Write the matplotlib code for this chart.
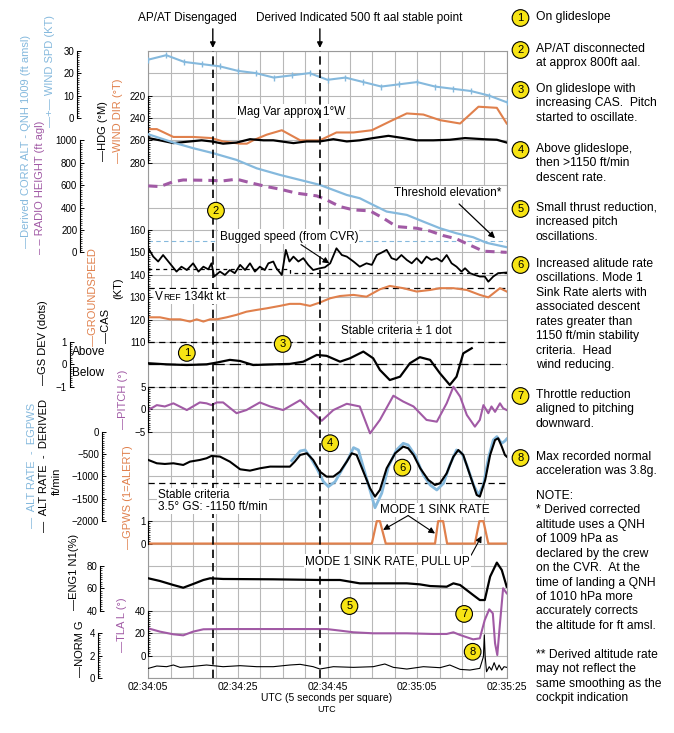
import numpy as np
import matplotlib
matplotlib.use('Agg')
import matplotlib.pyplot as plt
from matplotlib.ticker import FixedLocator
from matplotlib.offsetbox import TextArea, HPacker, AnnotationBbox

plt.rcParams['font.family'] = ['Liberation Sans', 'DejaVu Sans']

LBLUE = '#85b9dd'
ORANGE = '#e0804c'
PURPLE = '#a15aa5'
YELLOW = '#f7e414'
GRID = '#b8b8b8'

# ---- data, time = seconds after 02:34:05 UTC ----
time_labels = ['02:34:05', '02:34:25', '02:34:45', '02:35:05', '02:35:25']
ap_off_t = 14.4          # AP/AT disengaged
stable_t = 38.3          # derived 500 ft aal point

wind_t = [0, 4, 8, 12, 16, 20, 24, 28, 32, 36, 40, 44, 48, 52, 56, 60, 64, 68, 72, 76, 80]
wind_spd = [26, 28, 25, 24, 23, 21, 20, 18, 19, 20, 17, 18, 16, 14, 15, 16, 14, 13, 12, 10, 7]

wdir_t = [0, 1.9, 5.6, 10, 14.1, 16.7, 20.5, 22, 23.4, 26.4, 29.8, 33.9, 38.3, 42.0, 45.8,
          49.9, 54, 57.7, 61.4, 65.1, 69.6, 73.7, 77.8, 80]
wind_dir = [250, 250, 257, 257, 258, 261, 263, 263, 260, 255, 251, 260, 260, 253, 253,
            251, 243, 236, 237, 242, 245, 230, 231, 245]

hdg_t = [0, 2.6, 5.6, 9.3, 11.9, 14.1, 16.7, 19.7, 22.7, 25.7, 27.9, 32.4, 35.3, 38.3, 41.3,
         44.3, 47.2, 50.2, 53.6, 56.9, 59.9, 63.6, 67.3, 70.7, 74.8, 77.8, 80]
hdg = [258, 260, 262.5, 261, 260, 261, 263, 262, 259, 260, 260, 262.5, 261, 261, 259,
       261, 260, 258, 256, 258, 260, 260, 259.5, 258, 259, 259.5, 262]

alt_t = [0, 5.6, 10, 14.5, 19.7, 24.2, 29.4, 33.9, 38.3, 41.3, 44.3, 47.2, 50.2, 53.2, 57.7,
         61.4, 65.1, 68.8, 72.5, 75.5, 80]
corr_alt = [1054, 980, 930, 885, 825, 750, 691, 646, 602, 557, 512, 483, 423, 364, 334,
            274, 215, 170, 135, 85, 46]
threshold_elev = 102

rad_t = [0, 2.6, 5.6, 7.8, 13, 16.7, 19.7, 22.7, 26.4, 29.4, 33.1, 37.6, 39.8, 42.8, 45.8,
         49.5, 52.5, 55.4, 59.9, 62.9, 65.8, 68.8, 71.5, 74.8, 80]
radio_ht = [593, 587, 631, 646, 643, 638, 653, 622, 587, 564, 528, 504, 468, 408, 379,
            370, 304, 230, 215, 190, 150, 120, 70, 10, 0]

cas_t = [0, 1.1, 2.2, 3.3, 4.8, 6.3, 7.4, 8.6, 10.0, 11.2, 12.3, 13.4, 14.1, 14.7, 16.0, 17.1,
         18.2, 19.3, 20.5, 21.6, 22.7, 23.8, 24.9, 26.0, 26.8, 27.9, 28.6, 29.8, 30.7, 31.5,
         32.4, 33.5, 34.6, 35.7, 36.8, 38.3, 39.4, 40.6, 42.0, 43.2, 44.3, 45.8, 47.2, 48.7,
         49.9, 51.0, 52.1, 53.2, 54.3, 55.4, 56.5, 57.7, 58.8, 59.9, 61.0, 62.1, 63.2, 64.4,
         65.5, 66.6, 67.7, 68.8, 69.9, 70.7, 71.8, 72.9, 74.0, 75.1, 75.9, 77.0, 78.1, 80.0]
cas = [151.8, 148.1, 145.9, 148.8, 145.1, 141.4, 143.6, 142.1, 145.1, 141.4, 143.6, 142.4,
       145.1, 139.2, 141.4, 139.9, 142.1, 140.7, 144.4, 142.1, 145.1, 141.4, 143.6, 142.1,
       145.1, 145.9, 142.9, 139.9, 151.1, 145.9, 148.1, 145.9, 147.4, 144.4, 142.1, 142.9,
       143.3, 145.1, 151.8, 148.8, 148.1, 145.9, 143.6, 145.1, 144.4, 148.8, 149.9, 151.1,
       147.4, 146.6, 148.8, 146.6, 145.1, 147.4, 145.1, 148.1, 146.6, 147.4, 145.9, 148.8,
       145.1, 143.6, 141.4, 142.9, 140.7, 139.9, 139.2, 139.2, 136.9, 139.2, 140.7, 141.0]

bug_t = [0, 31.6, 31.6, 80]
bug_spd = [142.6, 142.6, 140.7, 140.7]
vref = 134

gspd_t = [0, 2.6, 4.8, 7.1, 9.3, 10.8, 12.3, 13.8, 15.3, 17.5, 19.7, 21.9, 24.2, 26.4, 29.4,
          31.6, 33.9, 36.1, 38.3, 40.6, 42.8, 45.8, 48.7, 51.7, 53.9, 56.9, 59.9, 62.9, 65.1,
          68.1, 71.1, 74.0, 75.9, 78.5, 80]
gspd = [121.0, 121.0, 120.1, 120.1, 119.1, 120.1, 119.1, 120.1, 120.1, 121.0, 122.1, 123.5,
        124.3, 125.0, 126.1, 127.0, 127.0, 126.1, 127.6, 129.5, 130.5, 131.0, 130.2, 133.5,
        135.0, 134.0, 132.5, 133.2, 134.0, 134.0, 133.2, 131.0, 129.9, 134.0, 132.5]

gs_t = [0, 4.1, 8.6, 13, 15.3, 18.2, 20.5, 23.4, 27.9, 31.6, 34.6, 37.6, 39.8, 42.8, 45.0,
        48.0, 50.2, 51.7, 53.9, 56.2, 58.4, 60.6, 62.9, 65.1, 67.3, 68.8, 70.3, 72.2]
gs_dev = [0.05, 0.0, -0.03, 0.0, 0.08, 0.2, 0.15, -0.03, 0.0, 0.02, 0.12, 0.42, 0.38, 0.12,
          0.27, 0.57, 0.27, -0.25, -0.70, -0.55, 0.05, 0.32, 0.20, -0.40, -0.92, -0.55, 0.49, 0.72]

pitch_t = [0, 1.9, 3.7, 5.6, 8.6, 11.5, 13.0, 14.1, 15.3, 16.7, 19.7, 21.9, 24.9, 27.2, 30.1,
           33.9, 36.1, 38.7, 41.3, 44.3, 47.2, 49.5, 51.7, 54.7, 56.9, 59.2, 62.1, 64.4, 66.6,
           68.1, 69.6, 71.1, 72.9, 74.0, 74.8, 75.9, 76.6, 77.4, 78.5, 79.2, 80]
pitch = [-0.2, 0.9, 0.6, 1.3, -0.2, 1.5, 1.3, 0.9, 1.5, 1.5, -0.9, -0.2, 1.5, 0.6, -0.2,
         2.0, -0.2, -2.6, -0.2, 1.2, 0.6, -5.4, -2.4, 3.0, 1.7, 0.6, -2.4, -2.8, 1.3,
         5.0, 2.8, -1.3, -3.9, -2.4, 0.9, -0.9, 0.6, -0.6, 1.3, 0.2, -0.2]

rate_t = [0, 1.9, 3.7, 5.6, 7.8, 9.3, 11.5, 13.0, 14.1, 16.0, 18.2, 20.5, 22.7, 24.9, 27.2,
          29.4, 31.6, 32.7, 33.9, 35.4, 36.8, 38.3, 39.8, 41.3, 42.8, 44.3, 45.4, 46.5, 48.0,
          49.5, 50.6, 51.7, 53.2, 55.1, 56.9, 58.0, 59.2, 60.7, 62.5, 64.0, 65.1, 66.6, 68.1,
          69.2, 70.3, 71.8, 73.3, 74.0, 75.2, 76.3, 77.4, 78.1, 78.9, 79.6, 80]
rate_derived = [-634, -708, -723, -708, -745, -671, -634, -596, -544, -559, -671, -842, -872,
                -820, -782, -783, -783, -671, -522, -485, -634, -894, -1006, -1006, -894,
                -671, -485, -522, -894, -1266, -1452, -1303, -820, -485, -336, -373, -522,
                -820, -1080, -1192, -1155, -932, -560, -411, -522, -969, -1415, -1452, -1080,
                -522, -188, -150, -336, -522, -560]

egpws_t = [32.0, 33.9, 35.0, 36.1, 37.6, 39.1, 40.2, 41.7, 43.2, 44.7, 45.8, 46.9, 48.4, 49.9,
           50.6, 52.1, 53.6, 55.4, 56.9, 58.0, 59.5, 61.4, 62.9, 64.4, 65.9, 67.3, 68.8, 70.0,
           71.1, 72.6, 73.7, 74.8, 75.9, 77.0, 77.8, 78.9, 79.6, 80]
rate_egpws = [-650, -433, -411, -560, -820, -1118, -1229, -1118, -857, -597, -358, -411, -932,
              -1452, -1700, -1378, -783, -411, -262, -299, -522, -969, -1192, -1304, -1155,
              -746, -411, -485, -746, -1192, -1415, -1192, -597, -188, -113, -262, -210, -165]
stable_rate = -1150

gpws_t = [0, 49.9, 51.0, 51.7, 53.0, 64.0, 64.7, 65.8, 66.7, 72.9, 73.9, 74.8, 75.9, 80]
gpws = [0, 0, 1, 1, 0, 0, 1, 1, 0, 0, 1, 1, 0, 0]

n1_t = [0, 2.6, 5.6, 7.8, 10, 12.3, 13.8, 16.7, 27.9, 38.3, 42.8, 45.0, 47.2, 50.2, 57.7,
        60.6, 62.9, 66.6, 68.1, 69.6, 72.5, 74.0, 75.1, 76.3, 77.8, 78.9, 80]
n1 = [69.0, 66.6, 63.0, 60.6, 63.9, 67.5, 69.0, 68.4, 68.1, 67.5, 67.5, 66.0, 64.5, 64.5, 64.5,
      63.6, 62.1, 61.5, 64.5, 63.0, 54.1, 49.6, 49.6, 70.5, 83.0, 76.4, 61.5]

tla_t = [0, 2.6, 5.6, 7.8, 10.0, 12.3, 16.7, 27.9, 39.8, 42.8, 45.8, 50.2, 57.7, 63.6, 66.6,
         68.1, 69.6, 72.5, 74.0, 75.1, 76.1, 76.9, 77.4, 77.9, 78.5, 79.2, 80]
tla = [24.3, 21.4, 19.0, 18.1, 21.4, 23.5, 23.7, 23.7, 23.7, 22.3, 20.8, 19.9, 19.9, 19.3, 19.3,
       20.8, 18.4, 14.5, 15.4, 31.8, 41.3, 37.7, 11.0, 0.5, 28.8, 60.1, 55.6]

g_t = [0, 1.9, 4.1, 5.6, 7.1, 9.3, 13.0, 16.7, 20.5, 24.2, 27.9, 31.6, 33.9, 36.8, 38.3, 41.3,
       45.8, 50.2, 52.8, 54.7, 57.7, 61.4, 65.1, 67.3, 69.6, 71.8, 74.0, 74.8, 75.0, 75.2, 75.5,
       76.1, 76.6, 77.2, 77.8, 78.3, 78.9, 79.4, 80]
norm_g = [0.86, 1.07, 1.01, 1.16, 0.95, 1.01, 1.16, 1.01, 1.10, 1.01, 1.01, 1.16, 1.22, 1.01,
          0.80, 1.01, 0.95, 1.01, 1.25, 0.95, 0.80, 1.01, 0.92, 1.16, 0.77, 0.71, 0.86, 1.90,
          3.84, 1.90, 0.56, 1.01, 0.71, 1.37, 0.71, 1.16, 0.71, 1.01, 0.95]

# ---- figure ----
W, H = 674.0, 733.0
X0, X1, Y0, Y1 = 148.3, 506.7, 50.7, 678.0   # plot frame in pixels


def fx(px):
    return px / W


def fy(py):
    return 1 - py / H


fig = plt.figure(figsize=(6.74, 7.33), dpi=100)
ax = fig.add_axes([fx(X0), fy(Y1), (X1 - X0) / W, (Y1 - Y0) / H])
ax.set_xlim(0, 80)
ax.set_ylim(0, 28)     # 28 squares high
xt = np.arange(0, 81, 5)
ax.set_xticks(xt)
ax.set_xticklabels([time_labels[i // 4] if i % 4 == 0 else '' for i in range(len(xt))],
                   fontsize=7.5)
ax.set_yticks(np.arange(0, 29, 1))
ax.set_yticklabels([])
ax.tick_params(length=0, pad=3)
ax.grid(True, color=GRID, lw=0.8)
ax.set_axisbelow(True)
for s in ax.spines.values():
    s.set_color('#9a9a9a')
    s.set_linewidth(0.8)


def param_axis(v_ref, sq_ref, per_sq, ticks, step, spine_px):
    a = ax.twinx()
    lo = v_ref - sq_ref * per_sq
    a.set_ylim(lo, lo + 28 * per_sq)
    a.yaxis.tick_left()
    for s in ('top', 'right', 'bottom'):
        a.spines[s].set_visible(False)
    a.spines['left'].set_position(('axes', (spine_px - X0) / (X1 - X0)))
    a.spines['left'].set_bounds(min(ticks), max(ticks))
    a.spines['left'].set_linewidth(0.8)
    a.yaxis.set_major_locator(FixedLocator(ticks))
    a.yaxis.set_minor_locator(FixedLocator(np.arange(min(ticks), max(ticks) + step / 2, step)))
    a.tick_params(which='major', direction='in', length=3, width=0.7, labelsize=7, pad=2)
    a.tick_params(which='minor', direction='in', length=1.5, width=0.5)
    return a


wind_ax = param_axis(0, 25, 10, [0, 10, 20, 30], 1, 77)
hdg_ax = param_axis(220, 26, -20, [220, 240, 260, 280], 2, X0)
alt_ax = param_axis(0, 19, 200, [0, 200, 400, 600, 800, 1000], 20, 80)
kt_ax = param_axis(110, 15, 10, [110, 120, 130, 140, 150, 160], 1, X0)
gs_ax = param_axis(0, 14, 1, [-1, 0, 1], 0.1, 69.5)
pitch_ax = param_axis(0, 12, 5, [-5, 0, 5], 0.5, X0)
rate_ax = param_axis(0, 11, 500, [-2000, -1500, -1000, -500, 0], 50, 102)
gpws_ax = param_axis(0, 6, 1, [0, 1], 0.1, X0)
n1_ax = param_axis(40, 3, 20, [40, 60, 80], 2, 100)
tla_ax = param_axis(0, 1, 20, [0, 20, 40], 2, X0)
g_ax = param_axis(0, 0, 2, [0, 2, 4], 0.2, 97.5)

dash = (0, (5, 3.5))
wind_ax.plot(wind_t, wind_spd, color=LBLUE, lw=1.5, marker='|', ms=4, mew=1)
hdg_ax.plot(wdir_t, wind_dir, color=ORANGE, lw=1.5)
hdg_ax.plot(hdg_t, hdg, color='k', lw=1.6)
alt_ax.axhline(threshold_elev, color=LBLUE, lw=0.8, ls=(0, (4, 3)))
alt_ax.plot(alt_t, corr_alt, color=LBLUE, lw=1.6)
alt_ax.plot(rad_t, radio_ht, color=PURPLE, lw=2.2, ls=(0, (3, 2)))
kt_ax.plot(bug_t, bug_spd, color='k', lw=0.9, ls=(0, (3, 3)))
kt_ax.axhline(vref, color='k', lw=0.9, ls=dash)
kt_ax.plot(gspd_t, gspd, color=ORANGE, lw=1.5)
kt_ax.plot(cas_t, cas, color='k', lw=1.3)
gs_ax.axhline(1, color='k', lw=0.9, ls=dash)
gs_ax.axhline(-1, color='k', lw=0.9, ls=dash)
gs_ax.axhline(0, color='k', lw=0.9, ls=(0, (9, 4)))
gs_ax.plot(gs_t, gs_dev, color='k', lw=1.6)
pitch_ax.plot(pitch_t, pitch, color=PURPLE, lw=1.5)
rate_ax.axhline(stable_rate, color='k', lw=0.9, ls=dash)
rate_ax.plot(egpws_t, rate_egpws, color=LBLUE, lw=2)
rate_ax.plot(rate_t, rate_derived, color='k', lw=1.5)
gpws_ax.plot(gpws_t, gpws, color=ORANGE, lw=1.6)
n1_ax.plot(n1_t, n1, color='k', lw=1.6)
tla_ax.plot(tla_t, tla, color=PURPLE, lw=1.5)
g_ax.plot(g_t, norm_g, color='k', lw=0.8)

# ---- overlay for annotations ----
ov = fig.add_axes(ax.get_position())
ov.set_xlim(0, 80)
ov.set_ylim(0, 28)
ov.axis('off')

for t in (ap_off_t, stable_t):
    ov.axvline(t, color='k', lw=1.2, ls=(0, (5, 3)), zorder=2)
    ov.annotate('', xy=(t, 28.0), xytext=(t, 29.1), annotation_clip=False,
                arrowprops=dict(arrowstyle='-|>', color='k', lw=1, mutation_scale=8))
fig.text(fx(187), fy(18), 'AP/AT Disengaged', ha='center', va='center', fontsize=8.5)
fig.text(fx(359.5), fy(18), 'Derived Indicated 500 ft aal stable point', ha='center',
         va='center', fontsize=8.5)

wbox = dict(boxstyle='square,pad=0.1', fc='white', ec='none')
ov.text(32.0, 25.28, 'Mag Var approx 1°W', ha='center', va='center', fontsize=8.5,
        bbox=wbox, zorder=1)
ov.annotate('Threshold elevation*', xy=(77.4, 19.63), xytext=(66.8, 21.65), ha='center',
            va='center', fontsize=8.5, bbox=wbox,
            arrowprops=dict(arrowstyle='-|>', color='k', lw=0.9, mutation_scale=9,
                            shrinkA=4, shrinkB=0))
ov.annotate('Bugged speed (from CVR)', xy=(40.4, 18.51), xytext=(31.4, 19.7), ha='center',
            va='center', fontsize=8.5, bbox=wbox,
            arrowprops=dict(arrowstyle='-|>', color='k', lw=0.8, mutation_scale=9,
                            shrinkA=1, shrinkB=0))
vref_parts = HPacker(children=[TextArea('V', textprops=dict(fontsize=8.5)),
                               TextArea('REF', textprops=dict(fontsize=6.3)),
                               TextArea(' 134kt kt', textprops=dict(fontsize=8.5))],
                     align='baseline', pad=0, sep=0)
ov.add_artist(AnnotationBbox(vref_parts, (1.5, 17.02), xycoords='data',
                             box_alignment=(0, 0.5), frameon=True, pad=0.1,
                             bboxprops=dict(fc='white', ec='none')))
ov.text(55.4, 15.5, 'Stable criteria ± 1 dot', ha='center', va='center', fontsize=8.5,
        bbox=wbox)
ov.text(2.2, 7.9, 'Stable criteria\n3.5° GS: -1150 ft/min', ha='left', va='center',
        fontsize=8.5, linespacing=1.05, bbox=wbox)
ov.text(64.0, 7.5, 'MODE 1 SINK RATE', ha='center', va='center', fontsize=8.5, bbox=wbox)
for tip in ((52.4, 6.61), (64.0, 6.45)):
    ov.annotate('', xy=tip, xytext=(58.0, 7.25),
                arrowprops=dict(arrowstyle='-|>', color='k', lw=0.8, mutation_scale=9,
                                shrinkA=0, shrinkB=0))
ov.annotate('MODE 1 SINK RATE, PULL UP', xy=(74.4, 6.34), xytext=(53.4, 5.22), ha='center',
            va='center', fontsize=8.5, bbox=wbox,
            arrowprops=dict(arrowstyle='-|>', color='k', lw=0.8, mutation_scale=9,
                            relpos=(1, 0.8), shrinkA=0, shrinkB=0))

cbox = dict(boxstyle='circle,pad=0.3', fc=YELLOW, ec='k', lw=0.8)
markers = [('1', 8.6, 14.51), ('2', 15.1, 20.86), ('3', 30.0, 14.91), ('4', 40.6, 10.48),
           ('5', 44.9, 3.21), ('6', 56.7, 9.39), ('7', 70.5, 2.86), ('8', 72.4, 1.17)]
for num, t, sq in markers:
    ov.text(t, sq, num, ha='center', va='center', fontsize=8, bbox=cbox)

fig.text(fx(327), fy(697.7), 'UTC (5 seconds per square)', ha='center', va='center',
         fontsize=7.5)
fig.text(fx(327), fy(710), 'UTC', ha='center', va='center', fontsize=6.5)

# ---- rotated parameter labels on the left ----
side_labels = [
    ('—Derived CORR ALT - QNH 1009 (ft amsl)', LBLUE, 26, 141),
    ('—+— WIND SPD (KT)', LBLUE, 50, 71),
    ('– – RADIO HEIGHT (ft agl)', PURPLE, 40, 187),
    ('—HDG (°M)', 'k', 103, 131),
    ('—WIND DIR (°T)', ORANGE, 118, 121),
    ('—GROUNDSPEED', ORANGE, 93, 297),
    ('—CAS', 'k', 106, 326),
    ('(KT)', 'k', 118, 288),
    ('—GS DEV (dots)', 'k', 43, 343),
    ('—PITCH (°)', PURPLE, 123, 399),
    ('—  ALT RATE  -  EGPWS', LBLUE, 32, 465),
    ('—  ALT RATE  -  DERIVED', 'k', 44, 465),
    ('ft/min', 'k', 57, 481),
    ('—GPWS (1=ALERT)', ORANGE, 128, 497),
    ('—ENG1 N1(%)', 'k', 74, 572),
    ('—TLA L (°)', PURPLE, 122, 625),
    ('—NORM G', 'k', 80, 649),
]
for txt, col, x, y in side_labels:
    fig.text(fx(x), fy(y), txt, rotation=90, ha='center', va='center', color=col,
             fontsize=8)
fig.text(fx(72), fy(352), 'Above', ha='left', va='center', fontsize=8.5)
fig.text(fx(72), fy(373), 'Below', ha='left', va='center', fontsize=8.5)

# ---- notes on the right ----
notes = [
    ('1', 18, 'On glideslope'),
    ('2', 50, 'AP/AT disconnected\nat approx 800ft aal.'),
    ('3', 90, 'On glideslope with\nincreasing CAS.  Pitch\nstarted to oscillate.'),
    ('4', 150, 'Above glideslope,\nthen >1150 ft/min\ndescent rate.'),
    ('5', 209, 'Small thrust reduction,\nincreased pitch\noscillations.'),
    ('6', 265, 'Increased alitude rate\noscillations. Mode 1\nSink Rate alerts with\n'
               'associated descent\nrates greater than\n1150 ft/min stability\n'
               'criteria.  Head\nwind reducing.'),
    ('7', 396, 'Throttle reduction\naligned to pitching\ndownward.'),
    ('8', 458, 'Max recorded normal\nacceleration was 3.8g.'),
]
for num, y, txt in notes:
    fig.text(fx(520.5), fy(y), num, ha='center', va='center', fontsize=8, bbox=cbox)
    fig.text(fx(536), fy(y - 7), txt, ha='left', va='top', fontsize=8.7, linespacing=1.27)

fig.text(fx(536), fy(497 - 7),
         'NOTE:\n* Derived corrected\naltitude uses a QNH\nof 1009 hPa as\n'
         'declared by the crew\non the CVR.  At the\ntime of landing a QNH\n'
         'of 1010 hPa more\naccurately corrects\nthe altitude for ft amsl.\n\n'
         '** Derived altitude rate\nmay not reflect the\nsame smoothing as the\n'
         'cockpit indication', ha='left', va='top', fontsize=8.7, linespacing=1.27)

fig.savefig('out.png', dpi=100)
